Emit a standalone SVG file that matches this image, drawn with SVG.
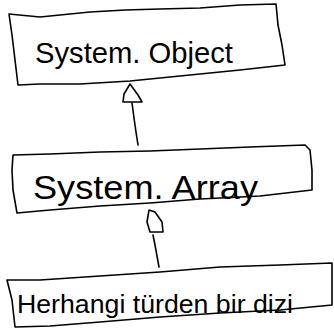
<svg xmlns="http://www.w3.org/2000/svg" width="334" height="331" viewBox="0 0 334 331">
<style>
.box{fill:none;stroke:#000;stroke-width:1.6;stroke-linejoin:round;stroke-linecap:round}
.edge{fill:none;stroke:#000;stroke-width:1.6;stroke-linecap:round}
.head{fill:#fff;stroke:#000;stroke-width:1.6;stroke-linejoin:round}
.lbl{font-family:"Liberation Sans",Arial,sans-serif;fill:#000;font-weight:normal}
</style>
<rect width="334" height="331" fill="#fff"/>
<g id="connectors">
<g id="e1">
<path class="edge" d="M132,103 L134,118 L136,132 L138,145"/>
<path class="head" d="M130,84 L124,94 L123,102 L142,102 L138,95 Z"/>
</g>
<g id="e2">
<path class="edge" d="M153,235 L155,245 L157,256 L159,267"/>
<path class="head" d="M149,210 L147,222 L150,232 L163,232 L162,222 L155,212 Z"/>
</g>
</g>
<g id="n1">
<path class="box" d="M9,14 L40,17 L90,12 L125,10 L160,9 L200,8 L240,5 L276,4 L278,25 L282,45 L285,65 L240,70 L180,76 L130,81 L80,84 L40,84 L18,85 L15,60 L12,35 Z"/>
<text class="lbl" x="35" y="63" font-size="30" textLength="198" lengthAdjust="spacingAndGlyphs">System. Object</text>
</g>
<g id="n2">
<path class="box" d="M13,155 L50,154 L100,152 L150,151 L200,149 L250,147 L305,145 L310,150 L312,170 L312,190 L260,196 L200,199 L150,203 L100,206 L50,210 L17,213 L13,190 L12,170 Z"/>
<text class="lbl" x="33" y="199" font-size="33" textLength="225" lengthAdjust="spacingAndGlyphs">System. Array</text>
</g>
<g id="n3">
<path class="box" d="M7,280 L40,280 L100,276 L160,272 L220,267 L280,265 L332,263 L332,285 L332,305 L280,310 L220,313 L160,317 L100,322 L50,326 L15,327 L12,300 Z"/>
<text class="lbl" x="17" y="313" font-size="25" textLength="276" lengthAdjust="spacingAndGlyphs">Herhangi türden bir dizi</text>
</g>
</svg>
